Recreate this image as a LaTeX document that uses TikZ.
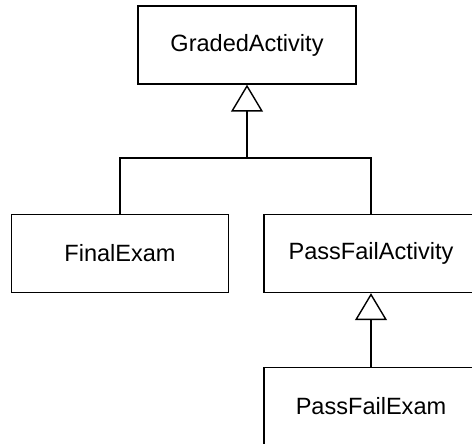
\documentclass[tikz,border=0pt]{standalone}
\usepackage{fontspec}
\setmainfont{Liberation Sans}
\usepackage{tikz}
\usetikzlibrary{arrows.meta,positioning}

\begin{document}
\begin{tikzpicture}[
    x=0.02cm, y=-0.02cm,
    cls/.style={draw, line width=0.8pt, minimum width=4.3cm, minimum height=1.56cm, align=center, font=\fontsize{13.4}{16}\selectfont, inner sep=0pt},
    link/.style={line width=0.8pt},
    inherit/.style={link, -{Triangle[open, length=15.3pt, width=18.1pt, line width=0.8pt, fill=white]}}
]
\clip (0,0) rectangle (472,443);
\node[cls, minimum width=4.36cm] (graded) at (247,45) {GradedActivity};
\node[cls, minimum width=4.34cm] (final) at (120,253.5) {FinalExam};
\node[cls, minimum width=4.28cm] (pfactivity) at (371,253.5) {PassFailActivity};
\node[cls, minimum width=4.28cm] (pfexam) at (371,406.5) {PassFailExam};

\coordinate (split) at (247,158);
\draw[inherit] (final.north) |- (split) -- (graded.south);
\draw[link] (pfactivity.north) |- (split);
\draw[inherit] (pfexam.north) -- (pfactivity.south);
\end{tikzpicture}
\end{document}
